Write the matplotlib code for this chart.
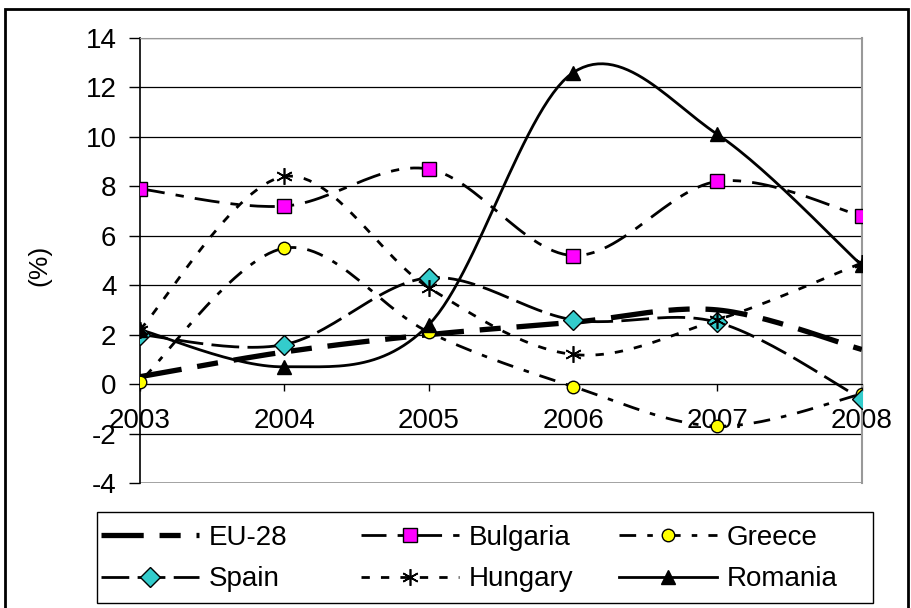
import matplotlib
matplotlib.use("Agg")
import matplotlib.pyplot as plt
import numpy as np
from matplotlib.patches import Rectangle

plt.rcParams["font.family"] = ["Liberation Sans", "DejaVu Sans"]
plt.rcParams["axes.unicode_minus"] = False

years = ["2003", "2004", "2005", "2006", "2007", "2008"]
eu28 = [0.3, 1.3, 2.0, 2.5, 3.0, 1.4]
bulgaria = [7.9, 7.2, 8.7, 5.2, 8.2, 6.8]
greece = [0.1, 5.5, 2.1, -0.1, -1.7, -0.4]
spain = [2.0, 1.6, 4.3, 2.6, 2.5, -0.6]
hungary = [2.2, 8.4, 3.9, 1.2, 2.6, 4.9]
romania = [2.2, 0.7, 2.4, 12.6, 10.1, 4.8]


def smooth(values, steps=30):
    # excel-like smoothed line: cubic bezier with neighbour based control points
    y = np.asarray(values, dtype=float)
    x = np.arange(len(y), dtype=float)
    xs, ys = [], []
    n = len(y)
    for i in range(n - 1):
        i0 = max(i - 1, 0)
        i3 = min(i + 2, n - 1)
        p0 = np.array([x[i], y[i]])
        p3 = np.array([x[i + 1], y[i + 1]])
        c1 = p0 + (np.array([x[i + 1], y[i + 1]]) - np.array([x[i0], y[i0]])) / 6
        c2 = p3 - (np.array([x[i3], y[i3]]) - np.array([x[i], y[i]])) / 6
        t = np.linspace(0, 1, steps)[:, None]
        pts = (1 - t) ** 3 * p0 + 3 * (1 - t) ** 2 * t * c1 + 3 * (1 - t) * t ** 2 * c2 + t ** 3 * p3
        if i > 0:
            pts = pts[1:]
        xs.extend(pts[:, 0])
        ys.extend(pts[:, 1])
    return np.array(xs), np.array(ys)


fig = plt.figure(figsize=(9.12, 6.08), dpi=100)
ax = fig.add_axes([0.1535, 0.2056, 0.7915, 0.7319])

series = [
    ("EU-28", eu28, dict(lw=3.8, dashes=(8, 3, 4, 3)), dict(marker="None")),
    ("Bulgaria", bulgaria, dict(lw=2.0, dashes=(9, 4, 3, 4)),
     dict(marker="s", ms=10, mfc="#ff00ff", mec="black", mew=1)),
    ("Greece", greece, dict(lw=2.0, dashes=(6, 4, 2, 4)),
     dict(marker="o", ms=9, mfc="#ffff00", mec="black", mew=1)),
    ("Spain", spain, dict(lw=2.0, dashes=(10, 3)),
     dict(marker="D", ms=10, mfc="#33cccc", mec="black", mew=1)),
    ("Hungary", hungary, dict(lw=2.0, dashes=(3, 4)),
     dict(marker=(6, 2, 0), ms=12, mec="black", mew=1.2)),
    ("Romania", romania, dict(lw=2.0, ls="-"),
     dict(marker="^", ms=10, mfc="black", mec="black")),
]

handles = {}
xpos = np.arange(len(years))
for i, (name, vals, lstyle, mstyle) in enumerate(series):
    sx, sy = smooth(vals)
    ax.plot(sx, sy, color="black", zorder=3 + i, **lstyle)
    ax.plot(xpos, vals, ls="None", color="black", zorder=10 + i, **mstyle)
    handles[name] = plt.Line2D([], [], color="black", **lstyle, **mstyle)

ax.set_xlim(0, 5)
ax.set_ylim(-4, 14)
ax.set_yticks(np.arange(-4, 15, 2))
ax.set_xticks(xpos)
ax.set_xticklabels(years)
ax.tick_params(axis="both", labelsize=20, direction="out", width=1)
ax.tick_params(axis="x", length=5, pad=12)
ax.tick_params(axis="y", length=8, pad=9)
ax.yaxis.grid(True, color="black", lw=0.9)
ax.set_axisbelow(True)

ax.spines["bottom"].set_position(("data", 0))
ax.spines["bottom"].set_color("black")
ax.spines["left"].set_color("black")
ax.spines["left"].set_linewidth(1.2)
ax.spines["top"].set_color("#999999")
ax.spines["right"].set_color("#999999")
ax.spines["right"].set_linewidth(1.5)
ax.add_line(plt.Line2D([0, 5], [-4, -4], color="#999999", lw=1.2, zorder=1))

ax.set_ylabel("(%)", fontsize=19)
ax.yaxis.set_label_coords(-0.123, 0.49)

# legend: one column per legend so the columns sit where they do in the reference
columns = [["EU-28", "Spain"], ["Bulgaria", "Hungary"], ["Greece", "Romania"]]
col_x = [0.096, 0.381, 0.664]
for names, x0 in zip(columns, col_x):
    leg = fig.legend([handles[k] for k in names], names, loc="center left",
                     bbox_to_anchor=(x0, 0.081), fontsize=20, frameon=False,
                     handlelength=3.5, handletextpad=0.35, borderpad=0.0,
                     labelspacing=0.55)
fig.add_artist(Rectangle((97 / 912, 5 / 608), 776 / 912, 91 / 608, transform=fig.transFigure,
                         fill=False, edgecolor="black", lw=1.0))

fig.add_artist(Rectangle((0.006, -0.01), 0.99, 0.995, transform=fig.transFigure,
                         fill=False, edgecolor="black", lw=2))

fig.savefig("out.png", dpi=100)
